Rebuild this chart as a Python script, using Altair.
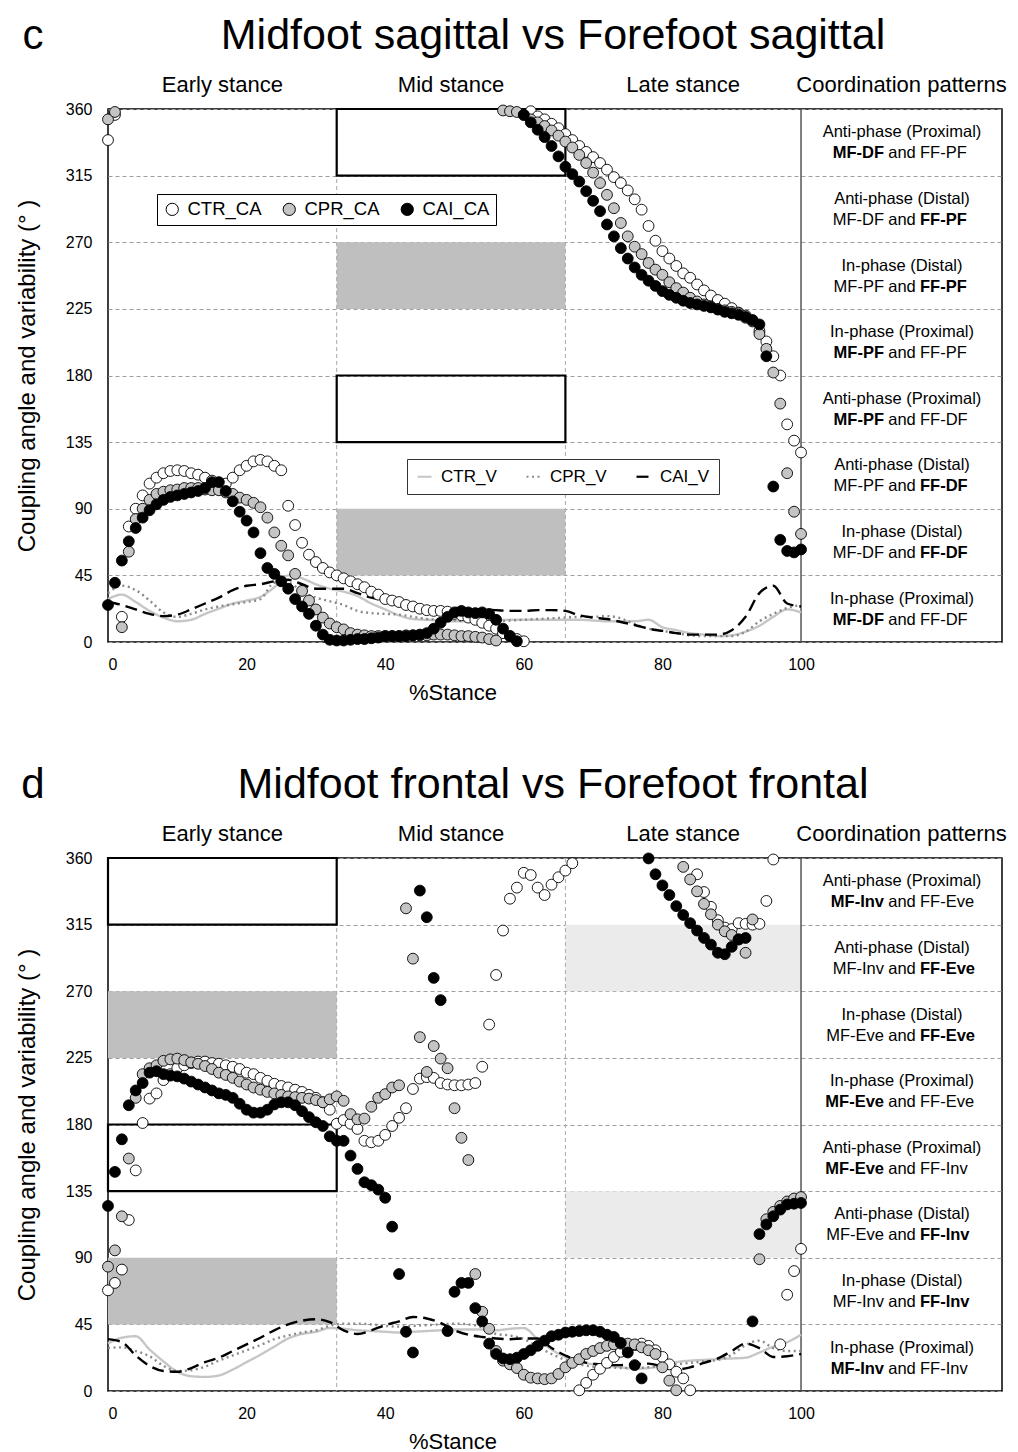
import altair as alt
import pandas as pd

FONT = "Liberation Sans"

# ---------------- data ----------------
PCT = list(range(101))            # % stance for coupling-angle points
PCT_LINE = list(range(0, 101, 2))  # % stance for variability curves
CA_SERIES = ["CTR_CA", "CPR_CA", "CAI_CA"]
V_SERIES = ["CTR_V", "CPR_V", "CAI_V"]

# panel c : Midfoot sagittal vs Forefoot sagittal
CTR_CA_C = [339, 356, 17, 78, 90, 99, 107, 111, 114, 115.5,
            116, 115.5, 114, 113, 111, 109, 107, 107, 111, 116,
            119, 122, 123, 122, 119, 116, 92, 79, 67, 59,
            54, 50, 47, 45, 43, 41, 39, 37, 34, 32,
            29, 28, 27, 25, 24, 22.5, 21.5, 21, 21, 20.5,
            19, 18, 16.5, 15, 13, 11, 9, 6, 4, 2,
            0.5, 358.5, 355, 353, 350, 347, 343, 339, 335, 331,
            327.5, 323.5, 319, 314, 310, 305, 299, 292, 281, 271,
            264, 259, 254, 249, 246, 241.5, 237.5, 234, 231, 228.5,
            225.5, 222.5, 219, 216.5, 210, 203, 193, 180, 147, 136,
            128]
CPR_CA_C = [353, 358, 10, 61, 83, 90, 96, 100, 101.5, 102.5,
            103, 104, 104, 104, 103, 102.5, 102.5, 101, 100, 97.5,
            96, 94, 91, 84, 74, 65, 58.5, 46, 34.5, 28,
            22, 16.5, 12.5, 10, 8.5, 6, 5, 4.5, 4, 4,
            4, 4, 4, 4.5, 4.5, 4.5, 4.5, 5, 5, 5,
            4.5, 4, 4, 3.5, 3, 2, 1, 359, 358.5, 358,
            356, 353, 351, 348.5, 345.5, 342, 338, 334, 329, 323.5,
            317, 310, 302, 293, 283, 274, 267, 262, 256, 251.5,
            248, 243, 239, 236, 232.5, 230, 228, 226.5, 225, 224,
            223, 222, 220.5, 217, 208, 198, 182, 161, 114, 88,
            73]
CAI_CA_C = [25, 40, 55, 68, 77, 84, 89, 93, 96, 98,
            99, 100, 101, 102, 104, 108, 108, 102, 95, 88,
            82, 74, 60, 50, 46, 41, 36, 29, 24, 19,
            11, 5, 1.5, 1, 1, 1.5, 2, 2, 2.5, 3,
            4, 4, 4, 4, 4.5, 5, 6, 9, 13, 17,
            20, 21, 20, 19.5, 20, 19, 15, 9, 4, 0.5,
            356, 351, 346, 341, 335, 328, 321, 316, 311, 304.5,
            298, 291, 282, 274, 266, 259, 253, 248, 244, 240.5,
            237, 234.5, 232.5, 230.5, 229, 228, 227, 226, 224.5, 223,
            222, 221, 219.5, 217.5, 214.5, 193, 105, 69, 61.5, 60.5,
            62.5]
CTR_V_C = [29, 32, 27, 21, 16.5, 14, 15, 19, 22.5, 26,
           28, 30.5, 37, 45, 43, 39, 36, 34, 31, 26,
           22, 18, 15.5, 15, 14.5, 14, 14, 14, 14.5, 15,
           15, 15, 15, 15, 15, 14.5, 14, 14, 14, 15,
           10, 8, 6, 5, 4, 4.5, 7, 11, 17, 22,
           20]
CPR_V_C = [33, 38, 35, 28, 20, 17, 19, 22, 24, 25.5,
           27, 29, 40, 40, 34, 30, 27.5, 25, 21, 19.5,
           19, 18.5, 17, 15.5, 15, 14.5, 14, 14, 14, 14.5,
           15, 15.5, 16, 16.5, 17, 17, 17.5, 16, 12, 9,
           7.5, 6, 4.5, 4, 4, 4, 7, 14, 19, 23,
           25]
CAI_V_C = [27, 25, 22, 19, 17.5, 18.5, 22, 26, 30, 35,
           38, 39, 41, 42, 39, 36, 36, 36, 33, 30,
           28, 26, 24, 23, 22.5, 23, 22.5, 22, 21.5, 21,
           21, 21.5, 21.5, 21, 18, 16.5, 15.5, 13.5, 11.5, 9,
           7.5, 6, 5, 5, 5, 8, 17, 33, 38, 26,
           24]

# panel d : Midfoot frontal vs Forefoot frontal
CTR_CA_D = [68, 73, 82, 115.5, 149, 181, 197.5, 201, 210, 214,
            218, 220, 221.5, 222.5, 222.5, 221.5, 221, 220, 219, 217.5,
            215, 214, 211.5, 209.5, 207.5, 206, 205, 203.5, 202, 200,
            198, 195, 190, 180.5, 183, 180.5, 177, 169, 168, 169,
            173, 179, 184.5, 191, 204, 211, 212, 211.5, 208, 207,
            206.5, 206.5, 207, 208, 219, 247.5, 281, 311, 332.5, 340,
            350, 348.5, 340, 335, 342, 347, 351.5, 356.5, 0.5, 5.5,
            11, 15, 19, 23, 26.5, 29, 31, 32, 30.5, 27.5,
            23, 18, 13, 8.5, 0.5, 349, 337, 327, 318, 313,
            312, 316, 315.5, 315, 315.5, 331, 359, 31.5, 65, 81,
            96]
CPR_CA_D = [84, 95, 118, 157, 198, 214, 218, 220, 223, 224,
            224.5, 223.5, 222, 221, 219.5, 217.5, 215, 213.5, 211.5, 209,
            207, 205, 203.5, 202, 201, 200, 199, 198.5, 198, 197.5,
            196.5, 195, 197, 199, 196, 187, 183.5, 184, 192, 198,
            200.5, 205, 206.5, 326, 292, 239, 215.5, 233, 224.5, 218,
            191, 171, 156, 79, 53.5, 42, 27, 20.5, 18, 15.5,
            11, 9, 8.5, 8, 8.5, 11.5, 16, 19, 21.5, 25,
            27, 29, 30.5, 31.5, 32, 32, 31.5, 29.5, 27.5, 25,
            16, 7, 0.5, 354, 345.5, 337.5, 329, 322, 315, 310.5,
            308, 305, 296, 318.5, 89, 116, 121, 125, 128, 130,
            131]
CAI_CA_D = [125, 148, 170, 193, 203, 208, 215, 216, 214, 213,
            212.5, 211, 209, 207, 205, 203, 201, 200, 198, 194,
            190, 188, 188, 190, 193.5, 195, 195, 193, 189, 185,
            181.5, 179, 172, 169, 169, 159, 150, 141, 139, 136,
            130.5, 111, 79, 40, 26, 338, 320, 279, 264, 40.5,
            67, 73, 73, 56, 47, 32, 25, 22, 21.5, 22.5,
            25, 27.5, 30.5, 34, 37, 38, 39.5, 40, 40.5, 41,
            41, 40, 38, 36.5, 32.5, 26, 17.5, 8.5, 359.7, 349,
            341.5, 335, 327.5, 321.5, 316, 311, 306, 301.5, 296, 295,
            300, 305, 306, 47, 106, 112.5, 118, 122.5, 126, 126.5,
            127]
CTR_V_D = [32, 36, 37, 28, 20, 13, 10, 9.5, 10.5, 14.5,
           19.5, 24.5, 30, 35.5, 38.5, 40, 42.5, 42, 41, 40.5,
           40, 39.5, 40, 40.5, 41, 41.5, 41.5, 41.5, 41, 42,
           42.5, 35, 28, 23, 20, 18, 17, 16, 15, 15.5,
           17, 19.5, 20.5, 21, 21.5, 22, 22.5, 26, 30, 33,
           38]
CPR_V_D = [29, 29.5, 27, 23.5, 17, 13.5, 14, 16.5, 20.5, 24,
           27.5, 31, 35, 37.5, 39.5, 41, 44, 45.5, 45.5, 45,
           44, 43.5, 44, 44.5, 45, 45.5, 45, 43, 38.5, 37.5,
           35, 30, 25, 21, 18, 16.5, 16, 15.5, 15.5, 16,
           17, 18, 19, 20, 21, 24.5, 31, 34, 29, 27,
           27]
CAI_V_D = [35, 33, 24, 17, 13.5, 13, 15.5, 19.5, 22.5, 27,
           31.5, 36, 41, 45, 47.5, 48.5, 46.5, 41, 38.5, 41,
           44.5, 47, 50, 49, 46, 41, 38, 36.5, 35.5, 35,
           35.5, 35.5, 29, 24, 20, 18.5, 17.5, 17.5, 18, 18.5,
           16.5, 14.5, 16, 19, 22, 27, 32, 29, 23, 23.5,
           25]

# axes / labels
X_TICKS = [0, 20, 40, 60, 80, 100]
Y_TICKS = [0, 45, 90, 135, 180, 225, 270, 315, 360]
PHASE_EDGES = [0, 33, 66, 100, 129]
PHASE_LABELS = ["Early stance", "Mid stance", "Late stance", "Coordination patterns"]
BAND_CENTERS = [337.5, 292.5, 247.5, 202.5, 157.5, 112.5, 67.5, 22.5]
PATTERN_NAMES = ["Anti-phase (Proximal)", "Anti-phase (Distal)", "In-phase (Distal)",
                 "In-phase (Proximal)", "Anti-phase (Proximal)", "Anti-phase (Distal)",
                 "In-phase (Distal)", "In-phase (Proximal)"]
BOLD_SIDE = ["L", "R", "R", "L", "L", "R", "R", "L"]
LEFT_C = ["MF-DF", "MF-DF", "MF-PF", "MF-PF", "MF-PF", "MF-PF", "MF-DF", "MF-DF"]
RIGHT_C = ["FF-PF", "FF-PF", "FF-PF", "FF-PF", "FF-DF", "FF-DF", "FF-DF", "FF-DF"]
LEFT_D = ["MF-Inv", "MF-Inv", "MF-Eve", "MF-Eve", "MF-Eve", "MF-Eve", "MF-Inv", "MF-Inv"]
RIGHT_D = ["FF-Eve", "FF-Eve", "FF-Eve", "FF-Eve", "FF-Inv", "FF-Inv", "FF-Inv", "FF-Inv"]

# highlighted regions (x1, x2, y1, y2) in data units
DARK_C = [(33, 66, 225, 270), (33, 66, 45, 90)]
LIGHT_C = []
BOX_C = [(33, 66, 315, 360), (33, 66, 135, 180)]
DARK_D = [(0, 33, 225, 270), (0, 33, 45, 90)]
LIGHT_D = [(66, 100, 270, 315), (66, 100, 90, 135)]
BOX_D = [(0, 33, 315, 360), (0, 33, 135, 180)]

# ---------------- chart ----------------
W, H = 894, 533
XS = alt.Scale(domain=[0, 129], nice=False, zero=False)
YS = alt.Scale(domain=[0, 360], nice=False, zero=False)
AX_X = alt.Axis(values=X_TICKS, title=None, grid=False, ticks=False, domain=False,
                labelFontSize=16, labelPadding=14, labelColor="black", labelFont=FONT)
AX_Y = alt.Axis(values=Y_TICKS, title="Coupling angle and variability (°  )", grid=True,
                gridDash=[4, 3], gridColor="#9d9d9d", gridWidth=1, ticks=False, domain=False,
                labelFontSize=16, labelPadding=16, labelColor="black", labelFont=FONT,
                titleFontSize=24, titleFontWeight="normal", titlePadding=26,
                titleColor="black", titleFont=FONT)


def X(f):
    return alt.X(f, type="quantitative", scale=XS, axis=AX_X)


def Y(f):
    return alt.Y(f, type="quantitative", scale=YS, axis=AX_Y)


def rect_df(rows, color):
    return pd.DataFrame([{"x1": a, "x2": b, "y1": c, "y2": d, "c": color} for a, b, c, d in rows],
                        columns=["x1", "x2", "y1", "y2", "c"])


def panel(ctr, cpr, cai, ctrv, cprv, caiv, left, right, dark, light, boxes,
          letter, headline, show_legend):
    shade = alt.Chart(pd.concat([rect_df(dark, "#bfbfbf"), rect_df(light, "#ebebeb")])).mark_rect().encode(
        x=X("x1"), x2=alt.X2("x2"), y=Y("y1"), y2=alt.Y2("y2"),
        color=alt.Color("c:N", scale=None))

    phase_rules = alt.Chart(pd.DataFrame({"v": PHASE_EDGES[1:3]})).mark_rule(
        color="#a8a8a8", strokeDash=[4, 3], strokeWidth=1).encode(x=X("v"))
    divider = alt.Chart(pd.DataFrame({"v": [PHASE_EDGES[3]]})).mark_rule(
        color="#555555", strokeWidth=1.5).encode(x=X("v"))

    box = alt.Chart(rect_df(boxes, "black")).mark_rect(
        filled=False, stroke="black", strokeWidth=2.2).encode(
        x=X("x1"), x2=alt.X2("x2"), y=Y("y1"), y2=alt.Y2("y2"))

    if show_legend:
        leg_line = alt.Legend(orient="none", legendX=299, legendY=350, direction="horizontal",
                              title=None, symbolType="stroke", symbolSize=196,
                              symbolStrokeWidth=2.2, labelFontSize=17, labelOffset=8,
                              columnPadding=25, padding=9, strokeColor="#333333",
                              fillColor="white", labelFont=FONT, labelColor="black")
        leg_pts = alt.Legend(orient="none", legendX=49, legendY=85, direction="horizontal",
                             title=None, symbolType="circle", symbolSize=150,
                             symbolStrokeColor="black", symbolStrokeWidth=1,
                             labelFontSize=18.5, labelOffset=6, columnPadding=18, padding=6,
                             strokeColor="black", fillColor="white", labelFont=FONT,
                             labelColor="black")
    else:
        leg_line = None
        leg_pts = None

    line_rows = []
    for name, vals in zip(V_SERIES, [ctrv, cprv, caiv]):
        for x, v in zip(PCT_LINE, vals):
            line_rows.append({"x": x, "v": v, "s": name})
    stroke_scale = alt.Scale(domain=V_SERIES, range=["#c6c6c6", "#8a8a8a", "#000000"])
    dash_scale = alt.Scale(domain=V_SERIES, range=[[1, 0], [2, 3.5], [12, 6]])
    lines = alt.Chart(pd.DataFrame(line_rows)).mark_line(strokeWidth=2.4, interpolate="monotone").encode(
        x=X("x"), y=Y("v"),
        stroke=alt.Stroke("s:N", scale=stroke_scale, legend=leg_line),
        strokeDash=alt.StrokeDash("s:N", scale=dash_scale, legend=leg_line))

    pt_rows = []
    for name, vals in zip(CA_SERIES, [ctr, cpr, cai]):
        for x, v in zip(PCT, vals):
            if v is not None:
                pt_rows.append({"x": x, "v": v, "s": name})
    fill_scale = alt.Scale(domain=CA_SERIES, range=["#ffffff", "#c4c4c4", "#000000"])
    points = alt.Chart(pd.DataFrame(pt_rows)).mark_point(
        filled=True, size=118, stroke="black", strokeWidth=0.9, opacity=1).encode(
        x=X("x"), y=Y("v"),
        fill=alt.Fill("s:N", scale=fill_scale, legend=leg_pts))

    band = pd.DataFrame({"yc": BAND_CENTERS, "name": PATTERN_NAMES, "left": left,
                         "right": right, "bold": BOLD_SIDE})
    col_x = alt.value(794)
    fs = 16.5
    t_name = alt.Chart(band).mark_text(fontSize=fs, dy=-10, baseline="middle").encode(
        x=col_x, y=Y("yc"), text="name:N")
    t_and = alt.Chart(band).mark_text(fontSize=fs, dy=11, baseline="middle").encode(
        x=col_x, y=Y("yc"), text=alt.value("and"))
    t_lb = alt.Chart(band).transform_filter("datum.bold == 'L'").mark_text(
        fontSize=fs, dy=11, dx=-18, align="right", baseline="middle", fontWeight="bold").encode(
        x=col_x, y=Y("yc"), text="left:N")
    t_ln = alt.Chart(band).transform_filter("datum.bold == 'R'").mark_text(
        fontSize=fs, dy=11, dx=-18, align="right", baseline="middle").encode(
        x=col_x, y=Y("yc"), text="left:N")
    t_rb = alt.Chart(band).transform_filter("datum.bold == 'R'").mark_text(
        fontSize=fs, dy=11, dx=18, align="left", baseline="middle", fontWeight="bold").encode(
        x=col_x, y=Y("yc"), text="right:N")
    t_rn = alt.Chart(band).transform_filter("datum.bold == 'L'").mark_text(
        fontSize=fs, dy=11, dx=18, align="left", baseline="middle").encode(
        x=col_x, y=Y("yc"), text="right:N")

    mids = [(PHASE_EDGES[i] + PHASE_EDGES[i + 1]) / 2 for i in range(4)]
    phases = alt.Chart(pd.DataFrame({"mid": mids, "lab": PHASE_LABELS})).mark_text(
        fontSize=22, baseline="middle").encode(x=X("mid"), y=alt.value(-24), text="lab:N")
    head = alt.Chart(pd.DataFrame({"t": [headline]})).mark_text(
        fontSize=43, baseline="middle").encode(x=alt.value(445), y=alt.value(-73), text="t:N")
    lett = alt.Chart(pd.DataFrame({"t": [letter]})).mark_text(
        fontSize=42, baseline="middle").encode(x=alt.value(-75), y=alt.value(-73), text="t:N")
    xtitle = alt.Chart(pd.DataFrame({"t": ["%Stance"]})).mark_text(
        fontSize=22, baseline="middle").encode(x=alt.value(345), y=alt.value(584), text="t:N")

    return alt.layer(shade, phase_rules, divider, box, lines, points,
                     t_name, t_and, t_lb, t_ln, t_rb, t_rn, phases, head, lett, xtitle
                     ).properties(width=W, height=H)


top = panel(CTR_CA_C, CPR_CA_C, CAI_CA_C, CTR_V_C, CPR_V_C, CAI_V_C, LEFT_C, RIGHT_C,
            DARK_C, LIGHT_C, BOX_C, "c", "Midfoot sagittal vs Forefoot sagittal", True)
bottom = panel(CTR_CA_D, CPR_CA_D, CAI_CA_D, CTR_V_D, CPR_V_D, CAI_V_D, LEFT_D, RIGHT_D,
               DARK_D, LIGHT_D, BOX_D, "d", "Midfoot frontal vs Forefoot frontal", False)

chart = alt.vconcat(top, bottom, spacing=58).resolve_scale(
    fill="independent", stroke="independent", strokeDash="independent"
).properties(
    padding={"left": 6, "top": 6, "right": 0, "bottom": 5}
).configure(font=FONT).configure_view(stroke="black", strokeWidth=1.5)

chart.save("out.html", embed_options={"renderer": "svg", "actions": False})
